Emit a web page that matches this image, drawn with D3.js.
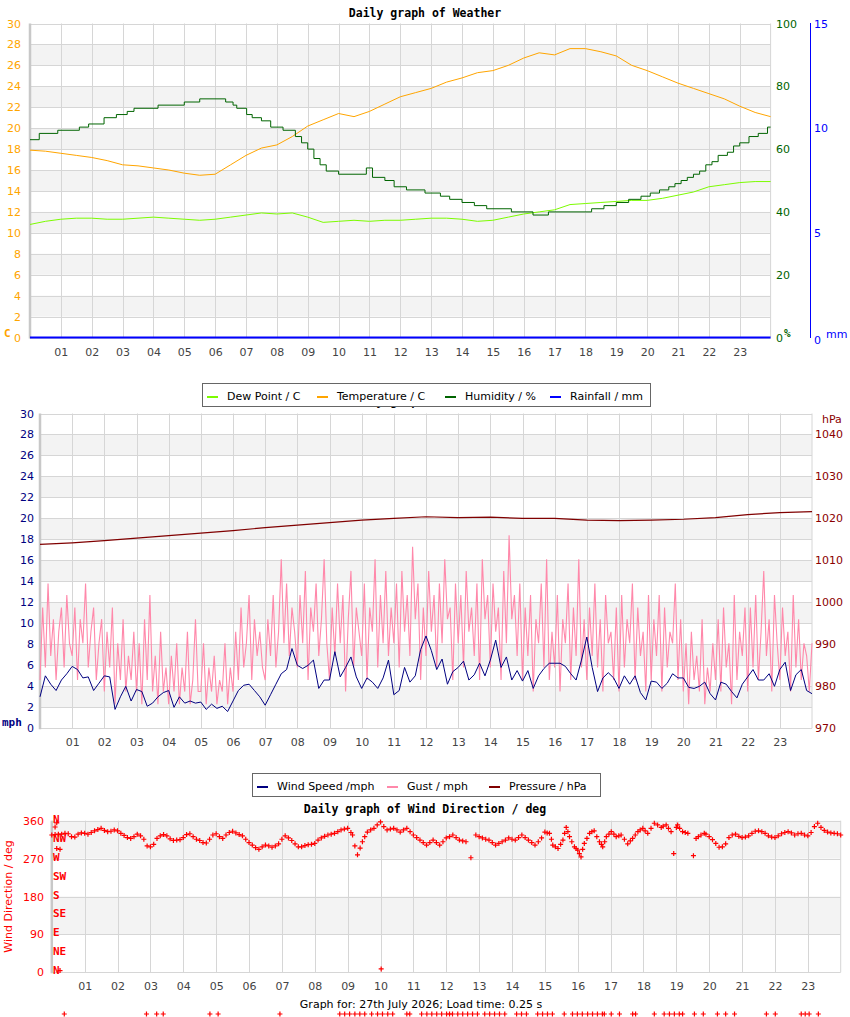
<!DOCTYPE html>
<html>
<head>
<meta charset="utf-8">
<script src="https://cdn.jsdelivr.net/npm/d3@7"></script>
<style>
    body { margin: 0; background: #fff; }
    text { font-family: "DejaVu Sans", sans-serif; font-size: 11px; }
    .mono { font-family: "DejaVu Sans Mono", monospace; font-weight: bold; }
</style>
</head>
<body>
<div id="chart"></div>
<script>
//____________________________DATA________________________//
const hourTicks = d3.range(1, 24)
const hourLabels = hourTicks.map(h => d3.format("02d")(h))

// panel 1 - readings every half hour
const halfHours = d3.range(0, 24.001, 0.5)
const temperature = [17.9, 17.8, 17.6, 17.4, 17.2, 16.9, 16.5, 16.4, 16.2, 16.0, 15.7, 15.5, 15.6,
    16.5, 17.4, 18.1, 18.4, 19.2, 20.2, 20.8, 21.4, 21.1, 21.6, 22.3, 23.0, 23.4, 23.8, 24.4, 24.8,
    25.3, 25.5, 26.0, 26.7, 27.2, 27.0, 27.6, 27.6, 27.3, 26.9, 26.0, 25.5, 24.9, 24.3, 23.8, 23.3,
    22.8, 22.1, 21.5, 21.1]
const dewPoint = [10.8, 11.1, 11.3, 11.4, 11.4, 11.3, 11.3, 11.4, 11.5, 11.4, 11.3, 11.2, 11.3,
    11.5, 11.7, 11.9, 11.8, 11.9, 11.5, 11.0, 11.1, 11.2, 11.1, 11.2, 11.2, 11.3, 11.4, 11.4, 11.3,
    11.1, 11.2, 11.5, 11.8, 12.0, 12.2, 12.7, 12.8, 12.9, 13.0, 13.1, 13.1, 13.3, 13.6, 13.9, 14.4,
    14.6, 14.8, 14.9, 14.9]
// humidity changes in whole percent: [hour, %]
const humidity = [[0, 63], [0.3, 65], [0.9, 66], [1.6, 67], [1.9, 68], [2.4, 70], [2.8, 71], [3.15, 72],
    [3.37, 73], [4.15, 74], [5.0, 75], [5.5, 76], [6.34, 75], [6.58, 74], [6.7, 73], [7.02, 71],
    [7.2, 70], [7.5, 69], [7.8, 67], [8.2, 66], [8.6, 64], [8.8, 62], [9.0, 60], [9.2, 57], [9.4, 55],
    [9.6, 53], [10.0, 52], [10.9, 54], [11.1, 51], [11.5, 50], [11.8, 48], [12.2, 47], [12.8, 46],
    [13.3, 45], [13.6, 44], [14.0, 43], [14.4, 42], [14.8, 41], [15.6, 40], [16.3, 39], [16.8, 40],
    [18.2, 41], [18.6, 42], [19.0, 43], [19.4, 44], [19.8, 45], [20.1, 46], [20.4, 47], [20.7, 48],
    [20.9, 49], [21.1, 50], [21.3, 51], [21.5, 52], [21.7, 53], [21.9, 55], [22.1, 56], [22.3, 58],
    [22.6, 59], [22.8, 61], [23.0, 62], [23.3, 64], [23.6, 65], [23.9, 67], [24, 67]]
const rainfall = [[0, 0], [24, 0]]

// panel 2 - wind speed every 10 min, gust every 5 min, pressure hourly
const windSpeed = [3.0, 5.0, 4.2, 3.6, 4.6, 5.2, 5.9, 5.6, 4.8, 4.9, 3.6, 4.3,
    5.0, 4.9, 1.8, 3.0, 4.0, 2.6, 3.7, 3.5, 2.1, 2.4, 3.0, 3.4,
    3.6, 2.0, 3.0, 2.4, 2.6, 2.4, 2.5, 1.8, 2.3, 1.9, 2.1, 1.6,
    2.6, 3.6, 4.1, 4.2, 3.6, 3.0, 2.2, 3.2, 4.2, 5.2, 5.6, 7.6,
    6.0, 5.7, 6.0, 6.5, 3.8, 4.6, 4.6, 7.3, 4.9, 5.8, 6.8, 4.9,
    3.8, 4.8, 4.4, 3.8, 4.8, 6.5, 3.2, 3.6, 5.8, 4.4, 5.0, 7.5,
    8.8, 7.4, 5.6, 6.6, 4.2, 5.4, 5.8, 6.4, 4.6, 5.1, 6.2, 5.0,
    6.5, 8.4, 5.8, 6.8, 4.6, 5.5, 4.5, 5.5, 3.8, 5.0, 5.7, 6.2,
    6.2, 6.2, 5.9, 5.2, 4.6, 6.5, 8.7, 5.8, 3.5, 4.8, 5.3, 4.8,
    3.8, 5.0, 4.2, 5.0, 3.4, 2.7, 4.5, 4.4, 3.8, 4.3, 5.2, 4.8,
    4.8, 3.9, 3.8, 4.0, 4.4, 3.3, 2.7, 4.4, 4.2, 3.5, 2.9, 4.2,
    4.9, 5.6, 4.6, 4.6, 5.2, 4.0, 5.6, 6.3, 3.6, 5.1, 5.6, 3.6, 3.3]
const gust = [4.6, 11.5, 5.8, 13.8, 6.9, 10.4, 4.6, 9.2, 11.5, 5.8, 12.7, 8.1,
    6.9, 11.5, 4.6, 10.4, 8.1, 13.8, 5.8, 9.2, 11.5, 4.6, 8.1, 10.4,
    3.5, 9.2, 5.8, 11.5, 2.3, 8.1, 4.6, 10.4, 3.5, 6.9, 4.6, 9.2,
    3.5, 8.1, 2.3, 10.4, 4.6, 12.7, 3.5, 6.9, 2.3, 9.2, 3.5, 5.8,
    2.3, 6.9, 3.5, 8.1, 2.3, 5.8, 3.5, 9.2, 2.3, 4.6, 10.4, 3.5,
    3.5, 8.1, 2.3, 5.8, 3.5, 6.9, 2.3, 4.6, 3.5, 8.1, 2.3, 5.8,
    3.5, 9.2, 4.6, 11.5, 5.8, 8.1, 12.7, 4.6, 10.4, 6.9, 9.2, 5.8,
    4.6, 10.4, 6.9, 12.7, 5.8, 9.2, 16.1, 8.1, 13.8, 6.9, 11.5, 9.2,
    5.8, 12.7, 8.1, 15.0, 4.6, 11.5, 9.2, 13.8, 6.9, 10.4, 16.1, 8.1,
    4.6, 11.5, 6.9, 13.8, 8.1, 12.7, 3.5, 10.4, 15.0, 5.8, 11.5, 9.2,
    6.9, 13.8, 4.6, 11.5, 9.2, 16.1, 5.8, 12.7, 8.1, 15.0, 6.9, 11.5,
    8.1, 13.8, 5.8, 15.0, 9.2, 12.7, 6.9, 17.3, 10.4, 13.8, 4.6, 11.5,
    6.9, 15.0, 9.2, 12.7, 5.8, 13.8, 8.1, 16.1, 10.4, 11.5, 4.6, 13.8,
    8.1, 12.7, 5.8, 15.0, 9.2, 11.5, 6.9, 13.8, 4.6, 16.1, 10.4, 12.7,
    5.8, 13.8, 9.2, 11.5, 4.6, 15.0, 8.1, 18.4, 10.4, 12.7, 6.9, 13.8,
    4.6, 11.5, 6.9, 12.7, 3.5, 10.4, 8.1, 13.8, 5.8, 16.1, 4.6, 9.2,
    5.8, 12.7, 3.5, 10.4, 8.1, 13.8, 4.6, 11.5, 6.9, 16.1, 5.8, 10.4,
    4.6, 11.5, 6.9, 13.8, 5.8, 10.4, 3.5, 12.7, 8.1, 9.2, 4.6, 11.5,
    3.5, 12.7, 5.8, 10.4, 8.1, 13.8, 4.6, 11.5, 6.9, 9.2, 3.5, 12.7,
    4.6, 10.4, 6.9, 12.7, 3.5, 11.5, 5.8, 9.2, 8.1, 13.8, 4.6, 10.4,
    3.5, 8.1, 2.3, 9.2, 4.6, 6.9, 3.5, 10.4, 2.3, 5.8, 3.5, 8.1,
    4.6, 10.4, 3.5, 11.5, 5.8, 8.1, 2.3, 12.7, 4.6, 9.2, 6.9, 11.5,
    3.5, 11.5, 5.8, 12.7, 4.6, 9.2, 15.0, 6.9, 10.4, 3.5, 12.7, 8.1,
    4.6, 11.5, 6.9, 9.2, 3.5, 12.7, 5.8, 10.4, 4.6, 8.1, 6.9, 3.5, 8.1]
const pressure = [1013.8, 1014.2, 1014.7, 1015.3, 1015.9, 1016.5, 1017.1, 1017.8, 1018.4, 1019.0,
    1019.6, 1020.0, 1020.4, 1020.2, 1020.3, 1020.0, 1020.0, 1019.6, 1019.5, 1019.6, 1019.8,
    1020.2, 1020.9, 1021.4, 1021.6]

// panel 3 - wind direction readings [hour, deg]
const windDir = [[0.0, 326], [0.1, 327], [0.1, 345], [0.15, 355], [0.15, 294], [0.25, 292], [0.25, 4],
    [0.2, 328], [0.3, 328], [0.4, 330], [0.5, 329], [0.6, 322], [0.7, 321], [0.8, 328], [0.9, 331],
    [1.0, 330], [1.1, 328], [1.2, 332], [1.3, 336], [1.4, 339], [1.5, 342], [1.6, 337], [1.7, 334],
    [1.8, 335], [1.9, 338], [2.0, 336], [2.1, 330], [2.2, 325], [2.3, 320], [2.4, 318], [2.5, 322],
    [2.6, 328], [2.7, 324], [2.8, 316], [2.9, 300], [3.0, 298], [3.1, 304], [3.2, 318], [3.3, 324],
    [3.4, 327], [3.5, 324], [3.6, 317], [3.7, 313], [3.8, 314], [3.9, 315], [4.0, 320], [4.1, 327],
    [4.2, 329], [4.3, 322], [4.4, 316], [4.5, 313], [4.6, 308], [4.7, 307], [4.8, 316], [4.9, 326],
    [5.0, 329], [5.1, 322], [5.2, 318], [5.3, 326], [5.4, 332], [5.5, 335], [5.6, 331], [5.7, 327],
    [5.8, 324], [5.9, 316], [6.0, 308], [6.1, 302], [6.2, 296], [6.3, 292], [6.4, 298], [6.5, 302],
    [6.6, 300], [6.7, 297], [6.8, 300], [6.9, 305], [7.0, 316], [7.1, 324], [7.2, 319], [7.3, 313],
    [7.4, 305], [7.5, 298], [7.6, 298], [7.7, 301], [7.8, 303], [7.9, 304], [8.0, 306], [8.1, 314],
    [8.2, 319], [8.3, 323], [8.4, 326], [8.5, 328], [8.6, 330], [8.7, 334], [8.8, 338], [8.9, 340],
    [9.0, 342], [9.1, 332], [9.15, 326], [9.22, 300], [9.3, 279], [9.38, 295], [9.45, 310], [9.52, 322],
    [9.6, 333], [9.7, 338], [9.8, 342], [9.9, 350], [10.0, 357], [10.02, 8], [10.1, 346], [10.2, 338],
    [10.3, 340], [10.4, 342], [10.5, 338], [10.6, 333], [10.7, 338], [10.8, 342], [10.9, 334],
    [11.0, 326], [11.1, 320], [11.2, 314], [11.3, 308], [11.4, 302], [11.5, 308], [11.6, 314],
    [11.7, 308], [11.8, 302], [11.9, 310], [12.0, 319], [12.1, 322], [12.2, 326], [12.3, 320],
    [12.4, 314], [12.5, 312], [12.6, 310], [12.75, 272], [12.9, 326], [13.0, 322], [13.1, 319],
    [13.2, 316], [13.3, 314], [13.4, 308], [13.5, 302], [13.6, 306], [13.7, 310], [13.8, 314],
    [13.9, 319], [14.0, 316], [14.1, 314], [14.2, 320], [14.3, 326], [14.4, 320], [14.5, 314],
    [14.6, 308], [14.7, 302], [14.8, 310], [14.9, 319], [15.0, 333], [15.07, 331], [15.14, 330],
    [15.2, 316], [15.24, 302], [15.32, 298], [15.4, 294], [15.48, 304], [15.55, 314], [15.6, 330],
    [15.65, 344], [15.7, 334], [15.75, 322], [15.82, 310], [15.9, 298], [15.95, 294], [16.0, 290],
    [16.05, 282], [16.1, 274], [16.15, 292], [16.2, 306], [16.28, 318], [16.36, 330], [16.43, 334],
    [16.5, 336], [16.58, 322], [16.66, 310], [16.72, 304], [16.76, 298], [16.82, 310], [16.87, 322],
    [16.95, 328], [17.02, 334], [17.1, 328], [17.17, 322], [17.25, 324], [17.32, 326], [17.42, 316],
    [17.52, 305], [17.6, 312], [17.67, 318], [17.75, 326], [17.83, 334], [17.9, 338], [17.98, 342],
    [18.05, 336], [18.13, 330], [18.23, 342], [18.33, 354], [18.43, 350], [18.54, 344], [18.6, 347],
    [18.69, 350], [18.76, 342], [18.84, 334], [18.92, 282], [19.0, 344], [19.04, 350], [19.1, 342],
    [19.19, 334], [19.27, 332], [19.35, 330], [19.52, 277], [19.6, 318], [19.67, 322], [19.75, 326],
    [19.85, 330], [19.9, 328], [20.0, 322], [20.1, 315], [20.2, 306], [20.3, 297], [20.4, 298],
    [20.5, 305], [20.6, 320], [20.7, 326], [20.8, 328], [20.9, 323], [21.0, 320], [21.1, 321],
    [21.2, 324], [21.3, 330], [21.4, 335], [21.5, 336], [21.6, 334], [21.7, 330], [21.8, 324],
    [21.9, 321], [22.0, 320], [22.1, 324], [22.2, 329], [22.3, 332], [22.4, 334], [22.5, 331],
    [22.6, 326], [22.7, 329], [22.8, 330], [22.9, 326], [23.0, 324], [23.1, 332], [23.2, 346],
    [23.3, 354], [23.4, 344], [23.5, 337], [23.6, 333], [23.7, 331], [23.8, 330], [23.9, 329],
    [24.0, 326]]
// readings logged as -99 (no direction)
const dirMissing = [0.38, 2.88, 3.19, 3.39, 4.81, 5.06, 6.94, 8.76, 8.91, 9.06, 9.22, 9.37, 9.52, 9.73,
    9.91, 10.06, 10.22, 10.37, 10.8, 10.89, 11.25, 11.41, 11.56, 11.71, 11.86, 12.01, 12.1, 12.19, 12.35,
    12.5, 12.65, 12.8, 12.95, 13.17, 13.32, 13.47, 13.62, 13.78, 14.14, 14.29, 14.44, 14.78, 14.93, 15.08,
    15.23, 15.59, 15.84, 15.99, 16.14, 16.3, 16.45, 16.6, 16.75, 16.81, 17.02, 17.27, 17.67, 17.76, 18.33,
    18.63, 18.79, 18.94, 19.09, 19.19, 19.55, 19.82, 20.25, 20.5, 20.77, 21.74, 22.01, 22.8, 22.92, 23.04,
    23.32]
const compass = ["N", "NE", "E", "SE", "S", "SW", "W", "NW", "N"]


//____________________________SVG________________________//
const svg = d3.select('#chart').append('svg')
    .attr("width", 850)
    .attr("height", 1017)

const GRID = '#d6d6d6'
const BAND = '#f3f3f3'

// background bands, grid and frame of one plot area
function drawFrame(x, y, ticks) {
    const g = svg.append('g')
    const [x0, x1] = x.range()
    for (let i = 1; i < ticks.length - 1; i += 2) {
        g.append('rect')
            .attr('x', x0).attr('width', x1 - x0)
            .attr('y', y(ticks[i + 1])).attr('height', y(ticks[i]) - y(ticks[i + 1]))
            .attr('fill', BAND)
    }
    g.selectAll('.hgrid').data(ticks).join('line')
        .attr('x1', x0).attr('x2', x1)
        .attr('y1', d => Math.round(y(d)) + 0.5).attr('y2', d => Math.round(y(d)) + 0.5)
        .attr('stroke', GRID)
    g.selectAll('.vgrid').data(hourTicks).join('line')
        .attr('x1', d => Math.round(x(d)) + 0.5).attr('x2', d => Math.round(x(d)) + 0.5)
        .attr('y1', y.range()[1]).attr('y2', y.range()[0])
        .attr('stroke', GRID)
    g.append('line')
        .attr('x1', x1).attr('x2', x1)
        .attr('y1', y.range()[1]).attr('y2', y.range()[0])
        .attr('stroke', GRID)
    g.append('line')
        .attr('x1', x0).attr('x2', x0)
        .attr('y1', y.range()[1]).attr('y2', y.range()[0] + 1)
        .attr('stroke', '#c8c8c8').attr('stroke-width', 2.5)

    // hour labels
    g.selectAll('.xl').data(hourTicks).join('text')
        .attr('x', d => x(d) + 0.5)
        .attr('y', y.range()[0] + 18)
        .attr('text-anchor', 'middle')
        .attr('fill', '#444')
        .text((d, i) => hourLabels[i])
    return g
}

function yLabels(scale, ticks, xPos, anchor, color, fmt) {
    svg.append('g').selectAll('text').data(ticks).join('text')
        .attr('x', xPos)
        .attr('y', d => scale(d) + 4)
        .attr('text-anchor', anchor)
        .attr('fill', color)
        .text(fmt || (d => d))
}

function legend(x, y, w, items) {
    const lg = svg.append('g').attr('transform', `translate(${x},${y})`)
    lg.append('rect')
        .attr('x', 0.5).attr('y', 0.5).attr('width', w).attr('height', 23)
        .attr('fill', '#fff').attr('stroke', '#666')
    items.forEach(it => {
        lg.append('line')
            .attr('x1', it.x).attr('x2', it.x + 11)
            .attr('y1', 14).attr('y2', 14)
            .attr('stroke', it.color).attr('stroke-width', 2)
        lg.append('text')
            .attr('x', it.x + 20).attr('y', 17)
            .attr('fill', '#000')
            .text(it.label)
    })
}

function title(text, x, y) {
    svg.append('text')
        .attr('class', 'mono')
        .attr('x', x).attr('y', y)
        .attr('text-anchor', 'middle')
        .style('font-size', '11.5px')
        .text(text)
}


//____________________________PANEL 1 - WEATHER________________________//
const x1 = d3.scaleLinear().domain([0, 24]).range([30, 770.6])
const yTemp = d3.scaleLinear().domain([0, 30]).range([337.5, 23.5])
const yHum = d3.scaleLinear().domain([0, 100]).range([337.5, 23.5])
const yRain = d3.scaleLinear().domain([0, 15]).range([337.5, 23.5])
const tempTicks = d3.range(0, 31, 2)

title('Daily graph of Weather', 425, 17)
drawFrame(x1, yTemp, tempTicks)
yLabels(yTemp, tempTicks, 21, 'end', '#ffa500')
yLabels(yHum, d3.range(0, 101, 20), 776, 'start', '#006400')
yLabels(yRain, [15, 10, 5], 814, 'start', '#0000ff')
svg.append('text').attr('x', 814).attr('y', 344).attr('fill', '#0000ff').text('0')
svg.append('text').attr('x', 826).attr('y', 338).attr('fill', '#0000ff').text('mm')
svg.append('text').attr('class', 'mono').attr('x', 4).attr('y', 337).attr('fill', '#ffa500').text('C')
svg.append('text').attr('class', 'mono').attr('x', 784).attr('y', 337).attr('fill', '#006400').text('%')
svg.append('line')
    .attr('x1', 810.5).attr('x2', 810.5).attr('y1', 23).attr('y2', 338)
    .attr('stroke', '#0000ff')

const line1 = d3.line().x((d, i) => x1(halfHours[i]))
svg.append('path').datum(dewPoint)
    .attr('d', line1.y(d => yTemp(d)))
    .attr('fill', 'none').attr('stroke', '#7cfc00').attr('stroke-width', 1)
svg.append('path').datum(temperature)
    .attr('d', line1.y(d => yTemp(d)))
    .attr('fill', 'none').attr('stroke', '#ffa500').attr('stroke-width', 1)
svg.append('path').datum(humidity)
    .attr('d', d3.line().curve(d3.curveStepAfter).x(d => x1(d[0])).y(d => yHum(d[1])))
    .attr('fill', 'none').attr('stroke', '#006400').attr('stroke-width', 1)
svg.append('path').datum(rainfall)
    .attr('d', d3.line().x(d => x1(d[0])).y(d => yRain(d[1])))
    .attr('fill', 'none').attr('stroke', '#0000ff').attr('stroke-width', 2)


//____________________________PANEL 2 - WIND________________________//
const x2 = d3.scaleLinear().domain([0, 24]).range([40, 812])
const ySpeed = d3.scaleLinear().domain([0, 30]).range([728.3, 413.5])
const yPres = d3.scaleLinear().domain([970, 1045]).range([728.3, 413.5])

// title sits mostly behind the legend box, as in the original
title('Daily graph of Weather', 425, 405)
drawFrame(x2, ySpeed, tempTicks)
yLabels(ySpeed, tempTicks, 34, 'end', '#000080')
yLabels(yPres, d3.range(970, 1041, 10), 815, 'start', '#8b0000')
svg.append('text').attr('x', 822).attr('y', 423).attr('fill', '#8b0000').text('hPa')
svg.append('text').attr('class', 'mono').attr('x', 2).attr('y', 726).attr('fill', '#000080').text('mph')

svg.append('path').datum(gust)
    .attr('d', d3.line().x((d, i) => x2(i / 12)).y(d => ySpeed(d)))
    .attr('fill', 'none').attr('stroke', '#ff88aa').attr('stroke-width', 1.1)
svg.append('path').datum(windSpeed)
    .attr('d', d3.line().x((d, i) => x2(i / 6)).y(d => ySpeed(d)))
    .attr('fill', 'none').attr('stroke', '#000080').attr('stroke-width', 1)
svg.append('path').datum(pressure)
    .attr('d', d3.line().x((d, i) => x2(i)).y(d => yPres(d)))
    .attr('fill', 'none').attr('stroke', '#800000').attr('stroke-width', 1.2)


//____________________________PANEL 3 - DIRECTION________________________//
const x3 = d3.scaleLinear().domain([0, 24]).range([51.8, 840.7])
const yDir = d3.scaleLinear().domain([0, 360]).range([972.3, 820.7])
const dirTicks = [0, 90, 180, 270, 360]

title('Daily graph of Wind Direction / deg', 425, 813)
drawFrame(x3, yDir, dirTicks)
yLabels(yDir, dirTicks, 44, 'end', '#ff0000')
svg.append('g').selectAll('text').data(compass).join('text')
    .attr('class', 'mono')
    .attr('x', 53)
    .attr('y', (d, i) => yDir(i * 45) + 2)
    .attr('fill', '#ff0000')
    .text(d => d)
svg.append('text')
    .attr('transform', `translate(12,${yDir(180)}) rotate(-90)`)
    .attr('text-anchor', 'middle')
    .attr('fill', '#ff0000')
    .text('Wind Direction / deg')

const plus = 'M-2.5,0H2.5M0,-2.5V2.5'
svg.append('g').selectAll('path').data(windDir).join('path')
    .attr('transform', d => `translate(${x3(d[0])},${yDir(d[1])})`)
    .attr('d', plus)
    .attr('stroke', '#ff0000').attr('stroke-width', 1.2)
svg.append('g').selectAll('path').data(dirMissing).join('path')
    .attr('transform', d => `translate(${x3(d)},${yDir(-99)})`)
    .attr('d', plus)
    .attr('stroke', '#ff0000').attr('stroke-width', 1.2)


//____________________________LEGENDS & FOOTER________________________//
legend(202, 383, 448, [
    {label: 'Dew Point / C', color: '#7cfc00', x: 5},
    {label: 'Temperature / C', color: '#ffa500', x: 115},
    {label: 'Humidity / %', color: '#006400', x: 243},
    {label: 'Rainfall / mm', color: '#0000ff', x: 348}
])
legend(252, 773, 348, [
    {label: 'Wind Speed /mph', color: '#000080', x: 5},
    {label: 'Gust / mph', color: '#ff88aa', x: 135},
    {label: 'Pressure / hPa', color: '#800000', x: 237}
])

svg.append('text')
    .attr('x', 421).attr('y', 1008)
    .attr('text-anchor', 'middle')
    .attr('fill', '#000')
    .text('Graph for: 27th July 2026; Load time: 0.25 s')
</script>
</body>
</html>
